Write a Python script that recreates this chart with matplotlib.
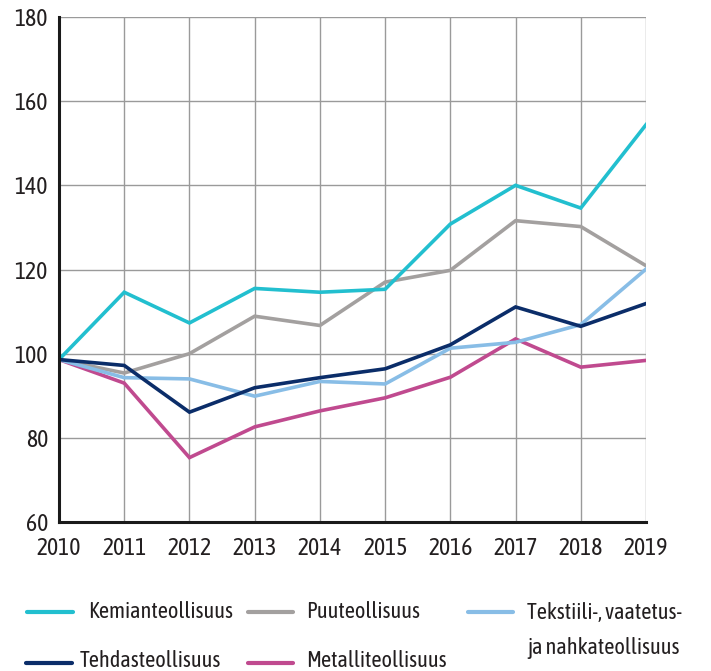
import matplotlib
matplotlib.use('Agg')
import matplotlib.pyplot as plt
from matplotlib.lines import Line2D

plt.rcParams['font.family'] = ['Asap Condensed', 'PT Sans Narrow', 'DejaVu Sans']

years = [2010, 2011, 2012, 2013, 2014, 2015, 2016, 2017, 2018, 2019]

kemian = [98.6, 114.6, 107.3, 115.5, 114.6, 115.3, 130.8, 140.0, 134.6, 154.4]
puu = [98.6, 95.4, 100.0, 108.9, 106.7, 117.0, 119.8, 131.6, 130.2, 120.9]
tekstiili = [98.6, 94.3, 94.0, 89.9, 93.4, 92.8, 101.3, 102.7, 106.9, 120.1]
tehdas = [98.6, 97.2, 86.1, 91.9, 94.3, 96.4, 102.1, 111.1, 106.5, 111.9]
metalli = [98.6, 93.0, 75.3, 82.6, 86.4, 89.5, 94.4, 103.5, 96.8, 98.4]

series = [
	(['Kemianteollisuus'], kemian, '#22bfcf'),
	(['Puuteollisuus'], puu, '#a3a09f'),
	(['Tekstiili-, vaatetus-', 'ja nahkateollisuus'], tekstiili, '#88bde6'),
	(['Tehdasteollisuus'], tehdas, '#0b2d69'),
	(['Metalliteollisuus'], metalli, '#c04a8f'),
]
# draw order: back to front
draw_order = [1, 0, 4, 2, 3]

text_color = '#231f20'
W, H = 711, 671

fig = plt.figure(figsize=(W / 100, H / 100), dpi=100)
ax = fig.add_axes([59 / W, 1 - 522 / H, (646 - 59) / W, (522 - 17) / H])

for i in draw_order:
	name, values, color = series[i]
	ax.plot(years, values, color=color, linewidth=2.6, solid_joinstyle='miter', zorder=3)

ax.set_xlim(2010, 2019)
ax.set_ylim(60, 180)
ax.set_xticks(years)
ax.set_yticks(range(60, 181, 20))
ax.grid(True, color='#9a9a9a', linewidth=1.0)
ax.set_axisbelow(True)

for side in ['top', 'right']:
	ax.spines[side].set_visible(False)
for side in ['left', 'bottom']:
	ax.spines[side].set_linewidth(2.2)
	ax.spines[side].set_color('#1a1a1a')
	ax.spines[side].set_zorder(4)

ax.tick_params(axis='both', length=0, labelsize=17, colors=text_color)
ax.tick_params(axis='y', pad=8)
ax.tick_params(axis='x', pad=11)

# legend, laid out by hand like the original: handle x0, x1, handle y, text x, baseline
legend_pos = {
	0: (27, 73, 612, 88, 618),
	1: (248, 293, 612, 306, 618),
	2: (468, 513, 612, 527, 619),
	3: (26, 72, 663, 80, 667),
	4: (248, 293, 663, 306, 667),
}
for i, (x0, x1, hy, tx, base) in legend_pos.items():
	lines, values, color = series[i]
	y = 1 - hy / H
	fig.add_artist(Line2D([x0 / W, x1 / W], [y, y], color=color, linewidth=3,
		solid_capstyle='round', transform=fig.transFigure))
	for k, line in enumerate(lines):
		fig.text(tx / W, 1 - (base + 35 * k) / H, line, fontsize=16, color=text_color,
			va='baseline', ha='left')

fig.savefig('out.png', dpi=100)
